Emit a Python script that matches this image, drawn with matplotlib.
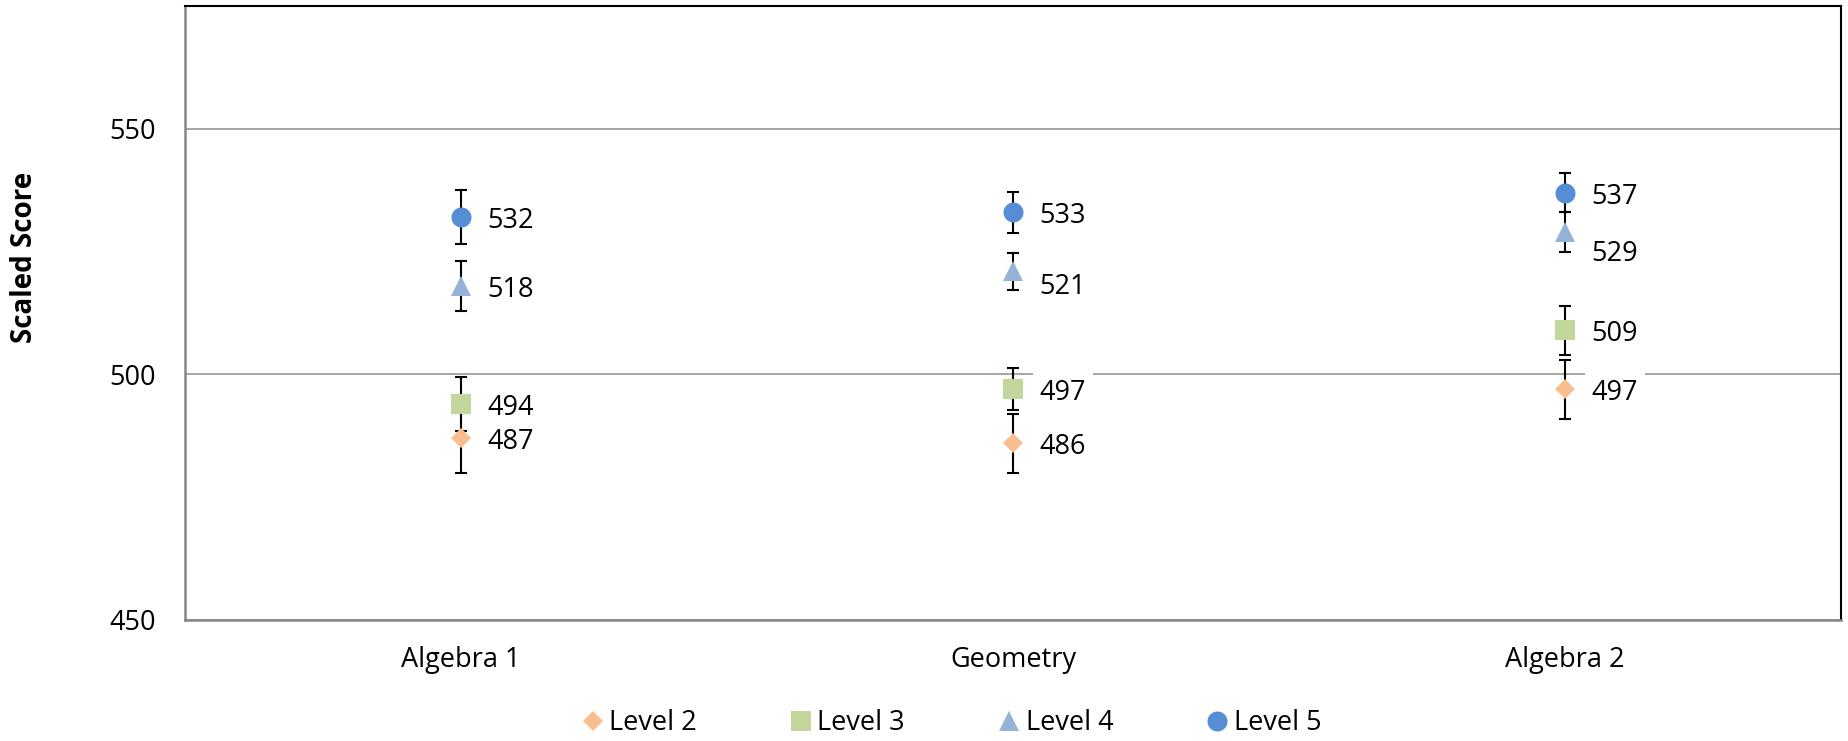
import matplotlib
matplotlib.use("Agg")
import matplotlib.pyplot as plt
import numpy as np

plt.rcParams['font.family'] = ['Open Sans', 'DejaVu Sans']

# dados
courses = ['Algebra 1', 'Geometry', 'Algebra 2']
levels = ['Level 2', 'Level 3', 'Level 4', 'Level 5']

level2 = [487, 486, 497]
level3 = [494, 497, 509]
level4 = [518, 521, 529]
level5 = [532, 533, 537]

level2_err = [7.0, 6.0, 6.0]
level3_err = [5.5, 4.3, 5.0]
level4_err = [5.0, 3.8, 4.0]
level5_err = [5.5, 4.2, 4.0]

yticks = [450, 500, 550]

series = [level2, level3, level4, level5]
errors = [level2_err, level3_err, level4_err, level5_err]
markers = ['D', 's', '^', 'o']
sizes = [10.5, 14.4, 14.4, 14.4]
colors = ['#F9BE8F', '#C3D69B', '#95B3D7', '#558ED5']
# deslocamento vertical dos rótulos (pontos), como no gráfico original
label_dy = [[0, 0, 0], [0, 0, 0], [0, -8, -13], [0, 0, 0]]

fig = plt.figure(figsize=(18.48, 7.41), dpi=100)
ax = fig.add_axes([0.1001, 0.1633, 0.8961, 0.8286])

x = np.arange(len(courses))
for vals, err in zip(series, errors):
    ax.errorbar(x, vals, yerr=err, fmt='none', ecolor='black', elinewidth=1.5,
                capsize=4.3, capthick=1.5, zorder=3)

for vals, m, s, c, name, dys in zip(series, markers, sizes, colors, levels, label_dy):
    ax.plot(x, vals, linestyle='none', marker=m, markersize=s, color=c,
            markeredgewidth=0, label=name, zorder=4)
    for xi, v, dy in zip(x, vals, dys):
        ax.annotate(str(v), (xi, v), xytext=(19, dy - 3), textcoords='offset points',
                    ha='left', va='center', fontsize=19.5, zorder=5,
                    bbox=dict(boxstyle='square,pad=0.25', fc='white', ec='none'))

ax.set_xlim(-0.5, 2.5)
ax.set_ylim(450, 575)
ax.set_yticks(yticks)
ax.set_xticks(x)
ax.set_xticklabels(courses)
ax.tick_params(axis='both', length=0, labelsize=19.5)
ax.tick_params(axis='y', pad=21)
ax.tick_params(axis='x', pad=19)
ax.grid(axis='y', color='#A6A6A6', linewidth=1.4, zorder=1)
ax.set_axisbelow(True)

for side in ['left', 'bottom']:
    ax.spines[side].set_color('#868686')
    ax.spines[side].set_linewidth(1.8)
for side in ['top', 'right']:
    ax.spines[side].set_color('black')
    ax.spines[side].set_linewidth(1.5)

fig.text(25 / 1848, 1 - 257 / 741, 'Scaled Score', rotation=90, ha='center',
         va='center', fontsize=20, fontweight='bold')

fig.legend(loc='center', bbox_to_anchor=(0.515, 18 / 741), ncol=4, frameon=False,
           fontsize=19.5, handlelength=0.8, handletextpad=0.2, columnspacing=3.45,
           numpoints=1, borderpad=0.1)

plt.savefig('out.png', dpi=100)
